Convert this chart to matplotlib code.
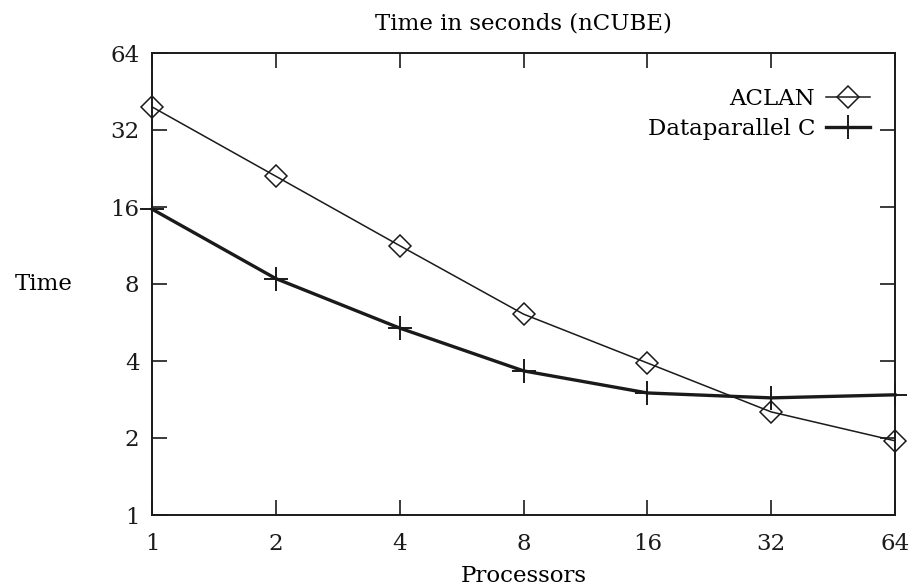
import matplotlib
matplotlib.use("Agg")
import matplotlib.pyplot as plt

# data (log2 scale both axes)
processors = [1, 2, 4, 8, 16, 32, 64]
aclan = [39.4, 21.1, 11.3, 6.1, 3.93, 2.53, 1.95]
dataparallel_c = [15.7, 8.4, 5.38, 3.66, 3.0, 2.87, 2.95]
ticks = [1, 2, 4, 8, 16, 32, 64]
tick_labels = ["1", "2", "4", "8", "16", "32", "64"]

plt.rcParams["font.family"] = ["DejaVu Serif"]
FS = 16.5

fig = plt.figure(figsize=(9.09, 5.86), dpi=100)
ax = fig.add_axes([152 / 909, 1 - 515 / 586, (895 - 152) / 909, (515 - 53) / 586])

ax.plot(processors, aclan, color="#1a1a1a", lw=1.1, marker="D", ms=11,
        mfc="none", mew=1.1, clip_on=False, label="ACLAN")
ax.plot(processors, dataparallel_c, color="#1a1a1a", lw=2.4, marker="+", ms=17,
        mew=1.4, clip_on=False, label="Dataparallel C")

ax.set_xscale("log", base=2)
ax.set_yscale("log", base=2)
ax.set_xlim(1, 64)
ax.set_ylim(1, 64)
ax.set_xticks(ticks)
ax.set_xticklabels(tick_labels)
ax.set_yticks(ticks)
ax.set_yticklabels(tick_labels)
ax.minorticks_off()
ax.tick_params(direction="in", length=11, width=1.2, top=True, right=True,
               labelsize=FS, colors="#1a1a1a")
ax.tick_params(axis="x", pad=13)
ax.tick_params(axis="y", pad=9)
for s in ax.spines.values():
    s.set_linewidth(1.4)
    s.set_color("#1a1a1a")

ax.set_xlabel("Processors", fontsize=FS, labelpad=7)
ax.set_ylabel("Time", fontsize=FS, rotation=0, labelpad=48, va="center")
ax.set_title("Time in seconds (nCUBE)", fontsize=FS, pad=17)

ax.legend(loc="upper right", frameon=False, markerfirst=False, fontsize=FS,
          handlelength=1.9, handletextpad=0.5, labelspacing=0.35,
          borderaxespad=0, borderpad=0,
          bbox_to_anchor=((870 - 152) / 743, (515 - 88) / 462))

fig.savefig("out.png", dpi=100)
